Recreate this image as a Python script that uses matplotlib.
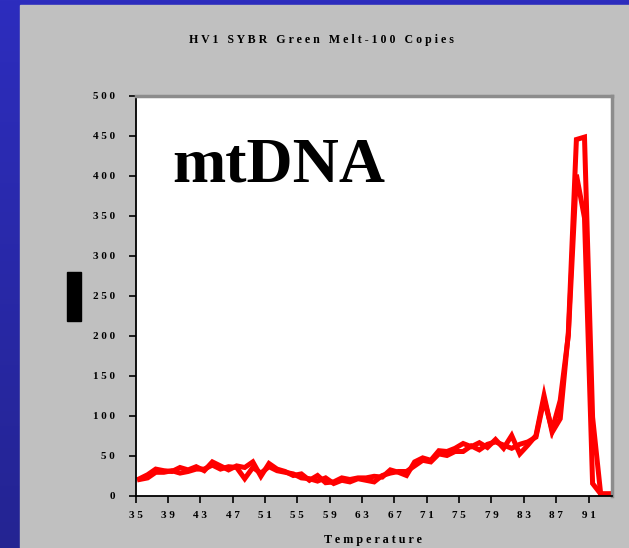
import matplotlib.pyplot as plt
import numpy as np
from matplotlib.patches import Rectangle
from matplotlib.colors import LinearSegmentedColormap

# melt temperature (deg C) of each reading
temps = [35.5, 36.5, 37.5, 38.5, 39.5, 40.5, 41.5, 42.5, 43.5, 44.5,
         45.5, 46.5, 47.5, 48.5, 49.5, 50.5, 51.5, 52.5, 53.5, 54.5,
         55.5, 56.5, 57.5, 58.5, 59.5, 60.5, 61.5, 62.5, 63.5, 64.5,
         65.5, 66.5, 67.5, 68.5, 69.5, 70.5, 71.5, 72.5, 73.5, 74.5,
         75.5, 76.5, 77.5, 78.5, 79.5, 80.5, 81.5, 82.5, 83.5, 84.5,
         85.5, 86.5, 87.5, 88.5, 89.5, 90.5, 91.5, 92.5, 93.5]

rep_a = [21, 26, 33, 31, 30, 35, 32, 36, 31, 42,
         37, 32, 37, 35, 42, 24, 40, 33, 30, 25,
         27, 19, 25, 16, 17, 22, 20, 22, 22, 24,
         23, 32, 29, 25, 42, 47, 44, 56, 55, 59,
         65, 61, 66, 60, 70, 59, 75, 52, 63, 75,
         125, 79, 96, 203, 445, 448, 98, 2, 2]

rep_b = [20, 22, 29, 29, 31, 28, 30, 33, 33, 38,
         33, 36, 35, 21, 35, 28, 36, 31, 29, 27,
         22, 21, 18, 22, 15, 19, 17, 21, 19, 17,
         25, 28, 30, 30, 37, 44, 42, 52, 50, 55,
         55, 62, 57, 64, 67, 63, 59, 64, 67, 73,
         120, 82, 119, 200, 401, 347, 15, 2, 2]

xticks = [35, 39, 43, 47, 51, 55, 59, 63, 67, 71, 75, 79, 83, 87, 91]
yticks = [0, 50, 100, 150, 200, 250, 300, 350, 400, 450, 500]


def spaced(s):
    return ' '.join(s)


serif = 'Liberation Serif'
W, H = 629, 548
fig = plt.figure(figsize=(W / 100, H / 100), dpi=100)

# slide background: blue gradient with a grey panel on top
bg = fig.add_axes([0, 0, 1, 1], zorder=-10)
grad = np.linspace(0, 1, 256).reshape(-1, 1)
cmap = LinearSegmentedColormap.from_list('slide', ['#2d2dbe', '#242492'])
bg.imshow(grad, aspect='auto', cmap=cmap, extent=[0, 1, 0, 1], origin='upper')
bg.add_patch(Rectangle((20 / W, 0), 1, 1 - 5 / H, color='#c0c0c0'))
bg.set_xlim(0, 1)
bg.set_ylim(0, 1)
bg.axis('off')

ax = fig.add_axes([135.5 / W, 1 - 495.5 / H, (612 - 135.5) / W, (495.5 - 95.5) / H])
ax.set_facecolor('white')
ax.plot(temps, rep_b, color='#ff0000', lw=3.6, solid_joinstyle='miter')
ax.plot(temps, rep_a, color='#ff0000', lw=3.6, solid_joinstyle='miter')

ax.set_xlim(35, 93.9)
ax.set_ylim(0, 500)
ax.set_xticks(xticks, labels=[spaced(str(t)) for t in xticks])
ax.set_yticks(yticks, labels=[spaced(str(t)) for t in yticks])
ax.tick_params(axis='both', direction='out', length=5, width=1.2, color='black',
               labelsize=8)
ax.tick_params(axis='y', pad=10)
ax.tick_params(axis='x', pad=6)
for lab in ax.get_xticklabels() + ax.get_yticklabels():
    lab.set_fontfamily(serif)
    lab.set_fontweight('bold')

for side in ('left', 'bottom'):
    ax.spines[side].set_color('black')
    ax.spines[side].set_linewidth(1.3)
for side in ('top', 'right'):
    ax.spines[side].set_color('#8c8c8c')
    ax.spines[side].set_linewidth(2.5)

ax.text((172 - 135.5) / 476.5, 1 - (182 - 95.5) / 400, 'mtDNA',
        transform=ax.transAxes, fontsize=46, fontweight='bold', family=serif,
        ha='left', va='baseline')

fig.text(321 / W, 1 - 40 / H, spaced('HV1 SYBR Green Melt-100 Copies'),
         ha='center', va='center', fontsize=8.6, fontweight='bold', family=serif)
fig.text(373 / W, 1 - 540 / H, spaced('Temperature'),
         ha='center', va='center', fontsize=8.7, fontweight='bold', family=serif)

# blacked-out y-axis label
fig.patches.append(Rectangle((67 / W, 1 - 321 / H), 14 / W, 49 / H,
                             transform=fig.transFigure, color='black'))

fig.savefig('out.png', dpi=100)
